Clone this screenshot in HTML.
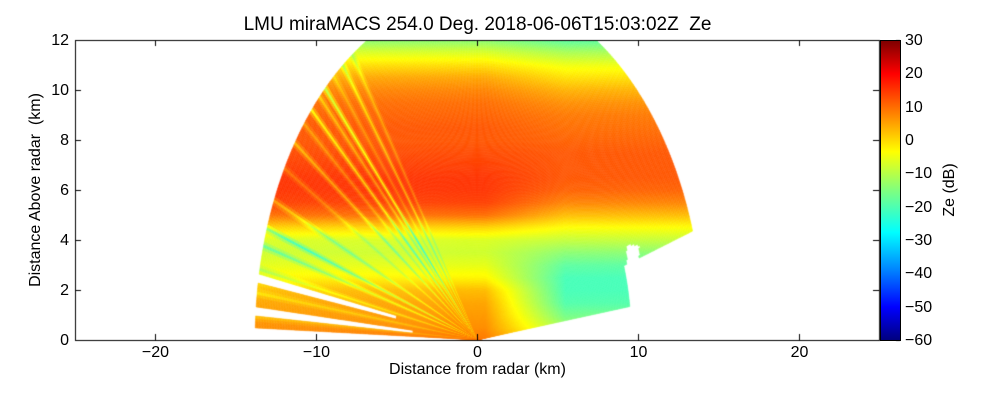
<!DOCTYPE html>
<html><head><meta charset="utf-8"><style>
body{margin:0;background:#fff;width:1000px;height:400px;overflow:hidden;font-family:"Liberation Sans","DejaVu Sans",sans-serif;}
#wrap{position:relative;width:1000px;height:400px;}
.t{position:absolute;font-size:16px;color:#000;white-space:nowrap;}
canvas{position:absolute;left:0;top:0;}
#cbar{position:absolute;left:880px;top:40px;width:19px;height:299px;border:1px solid #000;
background:linear-gradient(to top,#00007f 0%,#0000ff 11%,#007fff 23%,#00ffff 36%,#7fff7f 50%,#ffff00 63%,#ff7f00 76%,#ff0000 89%,#7f0000 100%);}
</style></head><body><div id="wrap">
<canvas id="c" width="1000" height="400"></canvas>
<div id="cbar"></div>
<div class="t" style="left:0;width:955px;text-align:center;top:14px;font-size:19px">LMU miraMACS 254.0 Deg. 2018-06-06T15:03:02Z&nbsp; Ze</div>
<div class="t" style="left:75px;width:805px;text-align:center;top:361px">Distance from radar (km)</div>
<div class="t" style="left:36px;top:190px;transform:translate(-50%,-50%) rotate(-90deg)">Distance Above radar&nbsp; (km)</div>
<div class="t" style="left:950px;top:190px;transform:translate(-50%,-50%) rotate(-90deg)">Ze (dB)</div>
<div id="ticks"></div>
</div>
<script>
// ---- data ----
const xTicks=[-20,-10,0,10,20];
const yTicks=[0,2,4,6,8,10,12];
const cTicks=[30,20,10,0,-10,-20,-30,-40,-50,-60];
const profileHeights=[0,0.5,1,1.5,2,2.5,3,3.5,4,4.5,5,5.5,6,6.5,7,7.5,8,8.5,9,9.5,10,10.5,11,11.5,12];
const profileLeft=[8,6,5,4,2,-3,-6,-8,-7,0,9,13,14,14,13,12,11,11,10,9,7,4,-1,-7,-14];
const profileRight=[-6,-12,-16,-19,-20,-20,-18,-14,-9,-4,2,7,10,11,11,11,10,9,8,6,3,-1,-5,-11,-18];
const streakAngles=[124,127,130,133,135,138,141,145,150,156,161,164,168,172,176];
const streakOffsets=[-6,-10,-5,-16,-8,-13,-6,-9,-5,-8,-12,-9,-6,-4,-3];
const gapAngles=[169.5,175];
const gapStart=[5,4];
// ---- axes ----
const X0=75,X1=879,Y0=40,Y1=340,xmin=-25,xmax=25,ymin=0,ymax=12;
const sx=v=>X0+(v-xmin)/(xmax-xmin)*(X1-X0);
const sy=v=>Y1-(v-ymin)/(ymax-ymin)*(Y1-Y0);
const cy=v=>40+(30-v)/90*300;
function jet(v){let t=(v+60)/90;t=Math.max(0,Math.min(1,t));
 const f=x=>Math.max(0,Math.min(1,x));
 const r=f(1.5-Math.abs(4*t-3)),g=f(1.5-Math.abs(4*t-2)),b=f(1.5-Math.abs(4*t-1));
 return `rgb(${r*255|0},${g*255|0},${b*255|0})`;}
function prof(arr,h){if(h<=0)return arr[0];const i=Math.min(profileHeights.length-2,Math.floor(h/0.5));const t=(h-profileHeights[i])/0.5;return arr[i]*(1-t)+arr[i+1]*t;}
function streak(a){let o=0;for(let i=0;i<streakAngles.length;i++){const d=Math.abs(a-streakAngles[i]);if(d<0.8)o+=streakOffsets[i]*(1-d/0.8);}return o;}
function isGap(a,r){for(let i=0;i<gapAngles.length;i++){if(Math.abs(a-gapAngles[i])<0.8&&r>gapStart[i])return true;}return false;}
const ctx=document.getElementById('c').getContext('2d');
ctx.save();ctx.beginPath();ctx.rect(X0,Y0,X1-X0,Y1-Y0);ctx.clip();
const da=0.5,dr=0.1;
for(let a=8;a<178;a+=da){
 const maxR=a<90?14.0:13.7;
 for(let r=0;r<maxR;r+=dr){
  const am=(a+da/2)*Math.PI/180,rm=r+dr/2;
  const x=rm*Math.cos(am),y=rm*Math.sin(am);
  if(y>12)break;
  if(isGap(a,r))continue;
  if(a<18&&r>9.5)continue;
  if(a>=18&&a<24&&x>9.3&&x<10.1&&y<3.8)continue;
  const w=Math.max(0,Math.min(1,(x-0.5)/5));
  const v=prof(profileLeft,y)*(1-w)+prof(profileRight,y)*w+streak(a);
  ctx.fillStyle=jet(v);
  ctx.beginPath();
  const a1=a*Math.PI/180,a2=(a+da)*Math.PI/180,r2=r+dr;
  ctx.moveTo(sx(r*Math.cos(a1)),sy(r*Math.sin(a1)));
  ctx.lineTo(sx(r2*Math.cos(a1)),sy(r2*Math.sin(a1)));
  ctx.lineTo(sx(r2*Math.cos(a2)),sy(r2*Math.sin(a2)));
  ctx.lineTo(sx(r*Math.cos(a2)),sy(r*Math.sin(a2)));
  ctx.closePath();ctx.fill();ctx.strokeStyle=ctx.fillStyle;ctx.lineWidth=0.5;ctx.stroke();
 }
}
ctx.restore();
ctx.strokeStyle='#000';ctx.lineWidth=1;
ctx.strokeRect(X0+0.5,Y0+0.5,X1-X0,Y1-Y0);
const tk=document.getElementById('ticks');
function lab(txt,x,y,al,name){const d=document.createElement('div');d.className='t';d.textContent=txt;
 d.style.left=x+'px';d.style.top=y+'px';d.style.transform=al;
 
 
 tk.appendChild(d);}
ctx.beginPath();
xTicks.forEach(v=>{const x=Math.round(sx(v))+0.5;ctx.moveTo(x,Y1);ctx.lineTo(x,Y1-6);ctx.moveTo(x,Y0);ctx.lineTo(x,Y0+6);
 lab(String(v).replace('-','\u2212'),x,344,'translateX(-50%)','x-tick-label');});
yTicks.forEach(v=>{const y=Math.round(sy(v))+0.5;ctx.moveTo(X0,y);ctx.lineTo(X0+6,y);ctx.moveTo(X1,y);ctx.lineTo(X1-6,y);
 lab(String(v),X0-6,y,'translate(-100%,-50%)','y-tick-label');});
cTicks.forEach(v=>{const y=Math.round(cy(v))+0.5;ctx.moveTo(900,y);ctx.lineTo(896,y);
 lab(String(v).replace('-','\u2212'),905,y,'translateY(-50%)','colorbar-tick-label');});
ctx.stroke();
</script></body></html>
